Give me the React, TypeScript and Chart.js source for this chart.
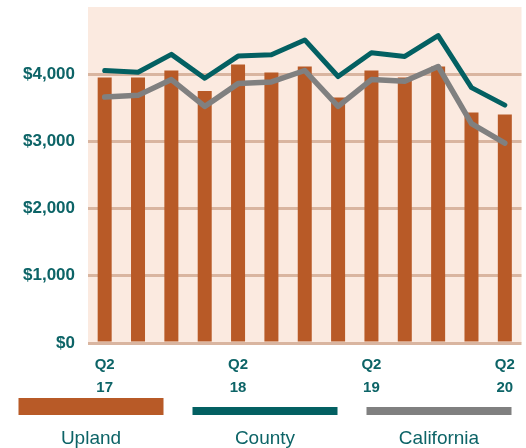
import React, { useEffect, useRef } from "react";
import { Chart, registerables } from "chart.js";

Chart.register(...registerables);

const categories = ["Q2 17", "Q3 17", "Q4 17", "Q1 18", "Q2 18", "Q3 18", "Q4 18", "Q1 19", "Q2 19", "Q3 19", "Q4 19", "Q1 20", "Q2 20"];
const tickLabels: Record<number, string[]> = { 0: ["Q2", "17"], 4: ["Q2", "18"], 8: ["Q2", "19"], 12: ["Q2", "20"] };
const upland = [3950, 3950, 4055, 3750, 4145, 4025, 4115, 3655, 4055, 3950, 4115, 3430, 3400];
const county = [4055, 4030, 4295, 3940, 4270, 4290, 4510, 3965, 4320, 4265, 4575, 3800, 3540];
const california = [3660, 3685, 3920, 3520, 3860, 3885, 4055, 3520, 3920, 3895, 4115, 3265, 2975];
const seriesNames = ["Upland", "County", "California"];

const TEAL = "#036062";
const BAR = "#B85A27";
const GRAY = "#808080";
const BG = "#FBEAE0";
const GRID = "#D9B5A0";
const TEXT = "#0D6467";

const plotBg = {
  id: "plotBg",
  beforeDraw(chart: any) {
    const { ctx, chartArea } = chart;
    ctx.save();
    ctx.fillStyle = BG;
    ctx.fillRect(chartArea.left, chartArea.top, chartArea.right - chartArea.left, chartArea.bottom - chartArea.top);
    ctx.restore();
  },
};

const bottomLegend = {
  id: "bottomLegend",
  afterDraw(chart: any) {
    const { ctx } = chart;
    const ds = chart.data.datasets;
    ctx.save();
    ds.forEach((d: any, i: number) => {
      const cx = 91 + 174 * i;
      const w = 145;
      ctx.fillStyle = d.type === "bar" ? d.backgroundColor : d.borderColor;
      if (d.type === "bar") ctx.fillRect(cx - w / 2, 398, w, 17);
      else ctx.fillRect(cx - w / 2, 407, w, 8);
      ctx.fillStyle = TEXT;
      ctx.font = "19px 'Liberation Sans', Arial, sans-serif";
      ctx.textAlign = "center";
      ctx.textBaseline = "alphabetic";
      ctx.fillText(d.label, cx, 444);
    });
    ctx.restore();
  },
};

export default function App() {
  const ref = useRef<HTMLCanvasElement>(null);
  useEffect(() => {
    if (!ref.current) return;
    const chart = new Chart(ref.current, {
      type: "bar",
      data: {
        labels: categories,
        datasets: [
          { type: "bar", label: seriesNames[0], data: upland, backgroundColor: BAR, barPercentage: 0.42, categoryPercentage: 1, order: 2 },
          { type: "line", label: seriesNames[1], data: county, borderColor: TEAL, backgroundColor: TEAL, borderWidth: 5, pointRadius: 0, tension: 0, borderJoinStyle: "round", borderCapStyle: "round", order: 0 },
          { type: "line", label: seriesNames[2], data: california, borderColor: GRAY, backgroundColor: GRAY, borderWidth: 5.5, pointRadius: 0, tension: 0, borderJoinStyle: "round", borderCapStyle: "round", order: 1 },
        ] as any,
      },
      options: {
        responsive: false,
        animation: false,
        layout: { padding: { top: 7, right: 4.5, bottom: 50, left: 0 } },
        plugins: { legend: { display: false }, tooltip: { enabled: false } },
        scales: {
          x: {
            grid: { display: false },
            border: { display: false },
            ticks: {
              autoSkip: false,
              maxRotation: 0,
              padding: 3,
              color: TEXT,
              font: { family: "'Liberation Sans', Arial, sans-serif", size: 15, weight: "bold", lineHeight: 1.5 },
              callback: (_v: any, i: number) => tickLabels[i] || "",
            },
            afterFit: (s: any) => { s.height = 55; s.paddingLeft = 0; s.paddingRight = 0; },
          },
          y: {
            min: 0,
            max: 5000,
            border: { display: false },
            grid: {
              drawTicks: false,
              lineWidth: 3,
              color: (c: any) => (c.tick && c.tick.value === 5000 ? "rgba(0,0,0,0)" : GRID),
            },
            ticks: {
              stepSize: 1000,
              padding: 13,
              color: TEXT,
              font: { family: "'Liberation Sans', Arial, sans-serif", size: 17, weight: "bold" },
              callback: (v: any) => (v === 5000 ? "" : "$" + Number(v).toLocaleString("en-US")),
            },
            afterFit: (s: any) => { s.width = 88; s.paddingTop = 0; s.paddingBottom = 0; },
          },
        },
      } as any,
      plugins: [plotBg, bottomLegend],
    });
    return () => chart.destroy();
  }, []);
  return (
    <div style={{ position: "fixed", left: 0, top: 0, width: 526, height: 448, background: "#fff" }}>
      <canvas ref={ref} width={526} height={448} />
    </div>
  );
}
